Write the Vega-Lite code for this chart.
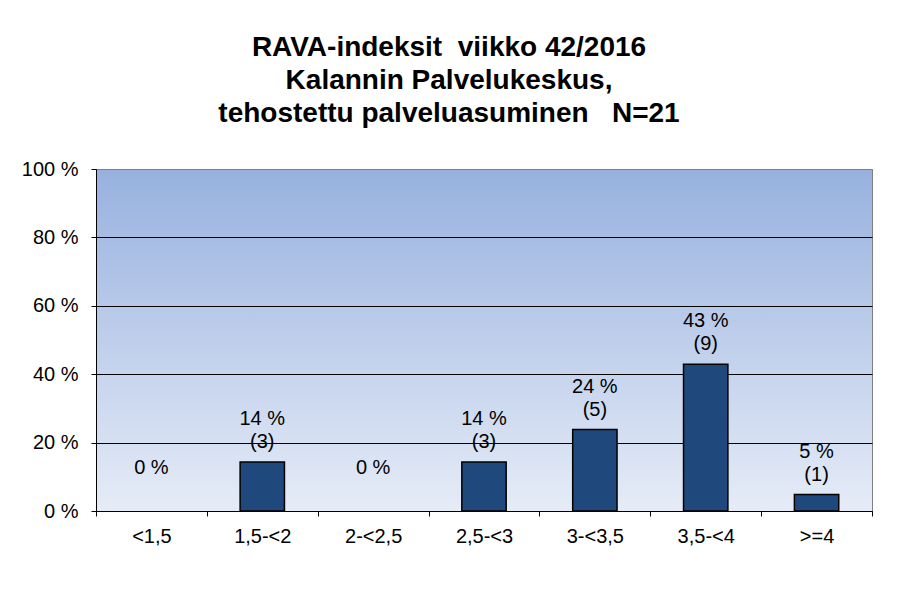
{
  "$schema": "https://vega.github.io/schema/vega-lite/v6.json",
  "width": 776,
  "height": 342,
  "autosize": {"type": "none"},
  "padding": {"left": 96, "top": 169, "right": 25, "bottom": 81},
  "background": "white",
  "title": {
    "text": ["RAVA-indeksit\u00a0\u00a0viikko 42/2016", "Kalannin Palvelukeskus,", "tehostettu palveluasuminen\u00a0\u00a0\u00a0N=21"],
    "font": "Liberation Sans",
    "fontSize": 28,
    "fontWeight": "bold",
    "color": "black",
    "lineHeight": 33,
    "anchor": "middle",
    "offset": 31,
    "dx": -35
  },
  "data": {
    "values": [
      {"cat": "<1,5", "pct": 0, "n": 0, "label": "0 %"},
      {"cat": "1,5-<2", "pct": 14.3, "n": 3, "label": "14 %\n(3)"},
      {"cat": "2-<2,5", "pct": 0, "n": 0, "label": "0 %"},
      {"cat": "2,5-<3", "pct": 14.3, "n": 3, "label": "14 %\n(3)"},
      {"cat": "3-<3,5", "pct": 23.8, "n": 5, "label": "24 %\n(5)"},
      {"cat": "3,5-<4", "pct": 42.9, "n": 9, "label": "43 %\n(9)"},
      {"cat": ">=4", "pct": 4.8, "n": 1, "label": "5 %\n(1)"}
    ]
  },
  "config": {
    "font": "Liberation Sans",
    "view": {
      "stroke": "#808080",
      "strokeWidth": 1,
      "fill": {
        "gradient": "linear",
        "x1": 0, "y1": 0, "x2": 0, "y2": 1,
        "stops": [
          {"offset": 0, "color": "#97B1DF"},
          {"offset": 1, "color": "#E6ECF7"}
        ]
      }
    }
  },
  "layer": [
    {
      "mark": {"type": "bar", "width": {"band": 0.4}, "color": "#1F497D", "stroke": "black", "strokeWidth": 1.5},
      "encoding": {
        "x": {
          "field": "cat", "type": "nominal", "sort": null,
          "scale": {"paddingInner": 0, "paddingOuter": 0},
          "axis": {
            "title": null, "labelAngle": 0, "tickBand": "extent",
            "domainColor": "black", "tickColor": "black", "tickSize": 5,
            "labelFontSize": 20, "labelColor": "black", "labelPadding": 10,
            "labelFont": "Liberation Sans"
          }
        },
        "y": {
          "field": "pct", "type": "quantitative",
          "scale": {"domain": [0, 100]},
          "axis": {
            "title": null,
            "values": [0, 20, 40, 60, 80, 100],
            "labelExpr": "datum.value + ' %'",
            "domainColor": "black", "tickColor": "black", "tickSize": 5,
            "gridColor": {"condition": {"test": "datum.value === 100", "value": "#808080"}, "value": "black"},
            "gridOpacity": 1,
            "labelFontSize": 20, "labelColor": "black", "labelPadding": 13,
            "labelFont": "Liberation Sans"
          }
        },
        "strokeOpacity": {"condition": {"test": "datum.pct === 0", "value": 0}, "value": 1}
      }
    },
    {
      "mark": {"type": "text", "baseline": "bottom", "dy": -33, "fontSize": 20, "lineBreak": "\n", "lineHeight": 23, "color": "black", "font": "Liberation Sans"},
      "encoding": {
        "x": {"field": "cat", "type": "nominal", "sort": null},
        "y": {"field": "pct", "type": "quantitative"},
        "text": {"field": "label"}
      }
    }
  ]
}
